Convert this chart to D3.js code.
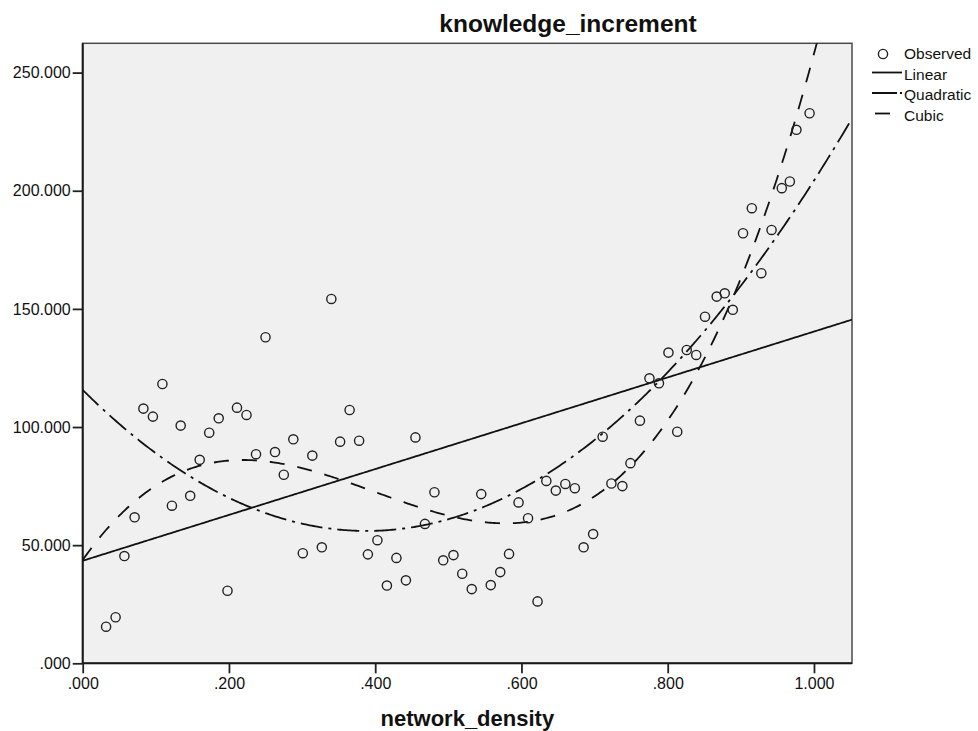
<!DOCTYPE html>
<html>
<head>
<meta charset="utf-8">
<script src="https://cdn.jsdelivr.net/npm/d3@7"></script>
<style>
  body { margin: 0; background: #fff; }
  text { font-family: 'Liberation Sans', Arial, sans-serif; fill: #111; }
</style>
</head>
<body>
<svg id="chart" width="978" height="731"></svg>
<script>
const networkDensity = [
  0.032, 0.045, 0.057, 0.071, 0.083, 0.096, 0.109, 0.122, 0.134, 0.147,
  0.160, 0.173, 0.186, 0.198, 0.211, 0.224, 0.237, 0.250, 0.263, 0.275,
  0.288, 0.301, 0.314, 0.327, 0.340, 0.352, 0.365, 0.378, 0.390, 0.403,
  0.416, 0.429, 0.442, 0.455, 0.468, 0.481, 0.493, 0.507, 0.519, 0.532,
  0.545, 0.558, 0.571, 0.583, 0.596, 0.609, 0.622, 0.634, 0.647, 0.660,
  0.673, 0.685, 0.698, 0.711, 0.723, 0.738, 0.749, 0.762, 0.775, 0.788,
  0.801, 0.813, 0.826, 0.839, 0.851, 0.867, 0.878, 0.889, 0.903, 0.915,
  0.928, 0.942, 0.956, 0.967, 0.976, 0.994
];
const knowledgeIncrement = [
  15.5, 19.5, 45.4, 61.8, 107.8, 104.4, 118.2, 66.7, 100.6, 70.9,
  86.1, 97.6, 103.7, 30.7, 108.2, 105.1, 88.5, 138.0, 89.4, 79.8,
  94.8, 46.6, 87.9, 49.1, 154.2, 93.8, 107.2, 94.2, 46.1, 52.1,
  32.9, 44.6, 35.1, 95.6, 59.0, 72.4, 43.6, 45.8, 37.9, 31.4,
  71.6, 33.1, 38.6, 46.3, 68.1, 61.4, 26.2, 77.2, 73.1, 75.9,
  74.1, 49.1, 54.7, 95.9, 76.1, 75.0, 84.7, 102.7, 120.6, 118.5,
  131.5, 98.0, 132.6, 130.5, 146.7, 155.2, 156.6, 149.6, 182.0, 192.6,
  165.1, 183.4, 201.1, 203.9, 225.8, 232.8
];

// fitted model coefficients (constant, b1, b2, b3)
const linearCoef = [43.4, 97.0];
const quadraticCoef = [115.7, -307.5, 396.1];
const cubicCoef = [43.7, 442.1, -1390.3, 1162.5];

const xTicks = [0, 0.2, 0.4, 0.6, 0.8, 1.0];
const yTicks = [0, 50, 100, 150, 200, 250];
const legendLabels = ['Observed', 'Linear', 'Quadratic', 'Cubic'];

const plot = { left: 82.7, right: 852, top: 43.3, bottom: 663.3 };
const xMax = 1.052, yMax = 262.4;

const svg = d3.select('#chart');

const x = d3.scaleLinear().domain([0, xMax]).range([plot.left, plot.right]);
const y = d3.scaleLinear().domain([0, yMax]).range([plot.bottom, plot.top]);

const fmt = (v) => d3.format('.3f')(v).replace(/^0\./, '.');

svg.append('defs')
  .append('clipPath')
  .attr('id', 'plot-clip')
  .append('rect')
  .attr('x', plot.left)
  .attr('y', plot.top)
  .attr('width', plot.right - plot.left)
  .attr('height', plot.bottom - plot.top);

// plot background and frame
svg.append('rect')
  .attr('x', plot.left)
  .attr('y', plot.top)
  .attr('width', plot.right - plot.left)
  .attr('height', plot.bottom - plot.top)
  .attr('fill', '#f0f0f0')
  .attr('stroke', '#4a4a4a')
  .attr('stroke-width', 1.5);

const xAxis = svg.append('g')
  .attr('transform', `translate(0,${plot.bottom})`)
  .call(d3.axisBottom(x).tickValues(xTicks).tickFormat(fmt).tickSize(10).tickPadding(4));
xAxis.select('.domain').remove();

const yAxis = svg.append('g')
  .attr('transform', `translate(${plot.left},0)`)
  .call(d3.axisLeft(y).tickValues(yTicks).tickFormat(fmt).tickSize(10).tickPadding(2));
yAxis.select('.domain').remove();

svg.selectAll('.tick line').attr('stroke', '#222').attr('stroke-width', 1.8);
svg.selectAll('.tick text')
  .style('font-family', "'Liberation Sans', Arial, sans-serif")
  .style('font-size', '16px')
  .attr('fill', '#222');

// left and bottom axis lines
svg.append('line')
  .attr('x1', plot.left).attr('x2', plot.left)
  .attr('y1', plot.top).attr('y2', plot.bottom)
  .attr('stroke', '#1a1a1a').attr('stroke-width', 2);
svg.append('line')
  .attr('x1', plot.left).attr('x2', plot.right)
  .attr('y1', plot.bottom).attr('y2', plot.bottom)
  .attr('stroke', '#1a1a1a').attr('stroke-width', 2);

// fitted curves
const poly = (coef) => (v) => coef.reduce((s, c, i) => s + c * Math.pow(v, i), 0);
const samples = d3.range(0, 401).map((i) => (i / 400) * xMax);
const fits = [
  { coef: linearCoef, dash: null },
  { coef: quadraticCoef, dash: '22,6,3,6' },
  { coef: cubicCoef, dash: '15,13' }
];

const curveGroup = svg.append('g').attr('clip-path', 'url(#plot-clip)');
curveGroup.selectAll('path')
  .data(fits)
  .enter()
  .append('path')
  .attr('d', (d) => d3.line().x((v) => x(v)).y((v) => y(poly(d.coef)(v)))(samples))
  .attr('fill', 'none')
  .attr('stroke', '#111')
  .attr('stroke-width', 1.8)
  .attr('stroke-dasharray', (d) => d.dash);

// observed points
svg.append('g')
  .attr('clip-path', 'url(#plot-clip)')
  .selectAll('circle')
  .data(networkDensity.map((d, i) => [d, knowledgeIncrement[i]]))
  .enter()
  .append('circle')
  .attr('cx', (d) => x(d[0]))
  .attr('cy', (d) => y(d[1]))
  .attr('r', 4.6)
  .attr('fill', 'none')
  .attr('stroke', '#222')
  .attr('stroke-width', 1.4);

// titles
svg.append('text')
  .attr('x', 568)
  .attr('y', 31.5)
  .attr('text-anchor', 'middle')
  .style('font-size', '24.5px')
  .style('font-weight', 'bold')
  .text('knowledge_increment');

svg.append('text')
  .attr('x', (plot.left + plot.right) / 2)
  .attr('y', 726)
  .attr('text-anchor', 'middle')
  .style('font-size', '22px')
  .style('font-weight', 'bold')
  .text('network_density');

// legend
const legend = svg.selectAll('.legend')
  .data(legendLabels)
  .enter()
  .append('g')
  .attr('class', 'legend')
  .attr('transform', (d, i) => `translate(0,${54 + i * 20.5})`);

legend.append('text')
  .attr('x', 904)
  .attr('y', 5)
  .style('font-size', '15.5px')
  .text((d) => d);

legend.filter((d, i) => i === 0)
  .append('circle')
  .attr('cx', 883)
  .attr('cy', 0)
  .attr('r', 4.6)
  .attr('fill', 'none')
  .attr('stroke', '#222')
  .attr('stroke-width', 1.4);

legend.filter((d, i) => i > 0)
  .append('line')
  .attr('x1', (d, i) => (i === 2 ? 875 : 872))
  .attr('x2', (d, i) => (i === 2 ? 890 : 902))
  .attr('y1', -2)
  .attr('y2', -2)
  .attr('stroke', '#111')
  .attr('stroke-width', 1.8)
  .attr('stroke-dasharray', (d, i) => (i === 1 ? '25,3,2,20' : null));
</script>
</body>
</html>
